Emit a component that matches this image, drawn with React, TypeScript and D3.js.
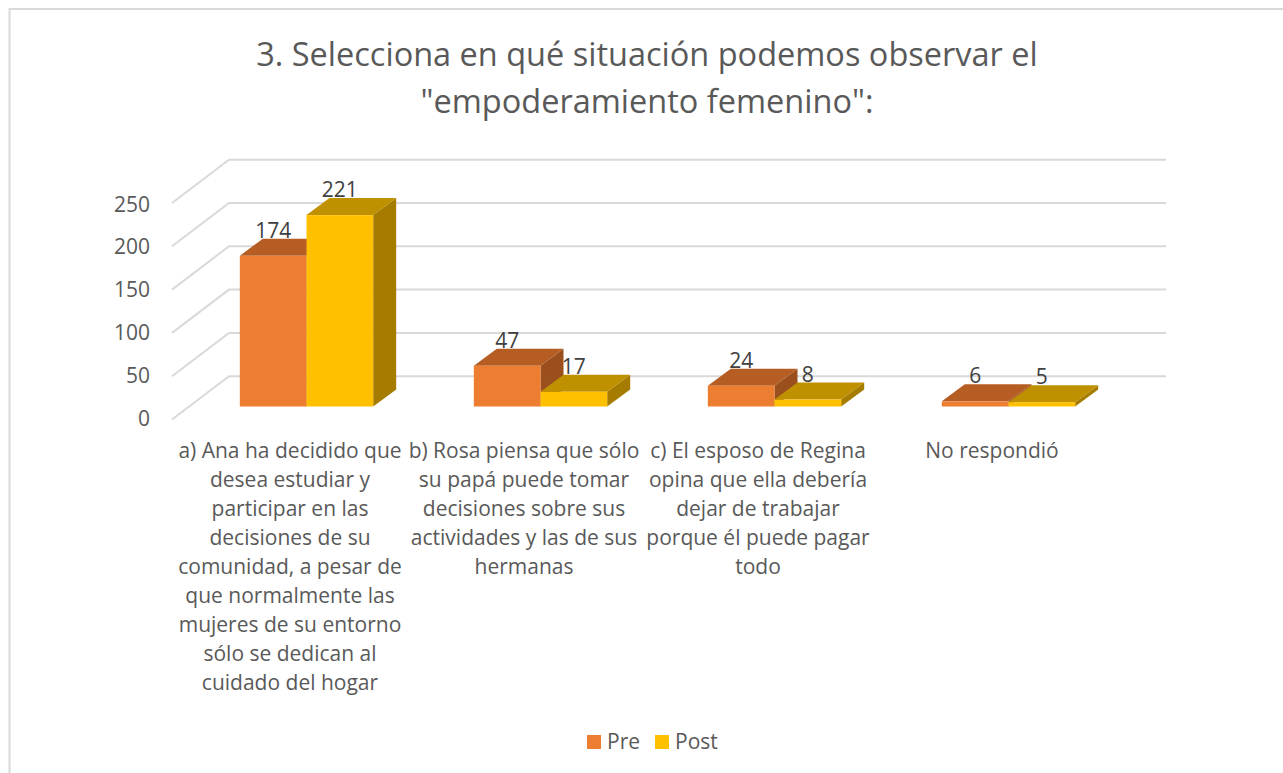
import React from "react";
import * as d3 from "d3";

const categories = ["a", "b", "c", "n"];
const categoryLines = [
  ["a) Ana ha decidido que", "desea estudiar y", "participar en las", "decisiones de su", "comunidad, a pesar de", "que normalmente las", "mujeres de su entorno", "sólo se dedican al", "cuidado del hogar"],
  ["b) Rosa piensa que sólo", "su papá puede tomar", "decisiones sobre sus", "actividades y las de sus", "hermanas"],
  ["c) El esposo de Regina", "opina que ella debería", "dejar de trabajar", "porque él puede pagar", "todo"],
  ["No respondió"],
];
const seriesNames = ["Pre", "Post"];
const pre = [174, 47, 24, 6];
const post = [221, 17, 8, 5];
const ticks = [0, 50, 100, 150, 200, 250];
const titleLines = ["3. Selecciona en qué situación podemos observar el", "\"empoderamiento femenino\":"];

const front = ["#ED7D31", "#FFC000"];
const top = ["#B55D22", "#BF9000"];
const side = ["#9A4F1C", "#A67C00"];
const FONT = "'Open Sans', sans-serif";

export default function App() {
  const y = d3.scaleLinear().domain([0, 250]).range([406.5, 190]);
  const labelY = d3.scaleLinear().domain([0, 250]).range([426, 211.5]);
  const x0 = d3.scaleBand<string>().domain(categories).range([189.5, 1125.5]).paddingInner(0.43).paddingOuter(0.215);
  const x1 = d3.scaleBand<string>().domain(seriesNames).range([0, x0.bandwidth()]);
  const dx = 23, dy = -17;
  const wallDx = 57, wallDy = -43.3;
  const gridY = (t: number) => y(t) + 13;
  const bars = seriesNames.flatMap((s, si) =>
    (si === 0 ? pre : post).map((v, ci) => ({ s, si, v, ci }))
  );
  const pts = (a: [number, number][]) => a.map((p) => p.join(",")).join(" ");
  return (
    <svg width={1283} height={773} style={{ position: "absolute", left: 0, top: 0, fontFamily: FONT }}>
      <rect width={1283} height={773} fill="#fff" />
      <path d="M9.5,773V9H1283" fill="none" stroke="#d9d9d9" strokeWidth={2} />
      {titleLines.map((t, i) => (
        <text key={i} x={647} y={66 + i * 47} textAnchor="middle" fontSize={32.5} fill="#595959">{t}</text>
      ))}
      {ticks.map((t) => (
        <g key={t}>
          <polyline
            points={pts([[172, gridY(t)], [172 + wallDx, gridY(t) + wallDy], [1166, gridY(t) + wallDy]])}
            fill="none" stroke="#d9d9d9" strokeWidth={2}
          />
          <text x={150} y={labelY(t)} textAnchor="end" fontSize={21} fill="#595959">{t}</text>
        </g>
      ))}
      {bars.map((b) => {
        const x = x0(categories[b.ci])! + x1(b.s)!;
        const w = x1.bandwidth();
        const yT = y(b.v), yB = y(0);
        return (
          <g key={b.s + b.ci}>
            <polygon points={pts([[x + w, yT], [x + w + dx, yT + dy], [x + w + dx, yB + dy], [x + w, yB]])} fill={side[b.si]} />
            <polygon points={pts([[x, yT], [x + dx, yT + dy], [x + w + dx, yT + dy], [x + w, yT]])} fill={top[b.si]} />
            <rect x={x} y={yT} width={w} height={yB - yT} fill={front[b.si]} />
          </g>
        );
      })}
      {bars.map((b) => {
        const x = x0(categories[b.ci])! + x1(b.s)!;
        return (
          <text key={b.s + b.ci} x={x + x1.bandwidth() / 2} y={y(b.v) + dy - 1} textAnchor="middle" fontSize={21} fill="#404040">{b.v}</text>
        );
      })}
      {categories.map((c, ci) => (
        <g key={c}>
          {categoryLines[ci].map((l, i) => (
            <text key={i} x={x0(c)! + x0.bandwidth() / 2 - 16.5} y={457.5 + i * 29} textAnchor="middle" fontSize={21} fill="#595959">{l}</text>
          ))}
        </g>
      ))}
      {seriesNames.map((s, i) => {
        const lx = d3.scaleOrdinal<string, number>().domain(seriesNames).range([587, 655]);
        return (
          <g key={s}>
            <rect x={lx(s)} y={735} width={14} height={14} fill={front[i]} />
            <text x={lx(s) + 20} y={749} fontSize={21} fill="#595959">{s}</text>
          </g>
        );
      })}
    </svg>
  );
}
